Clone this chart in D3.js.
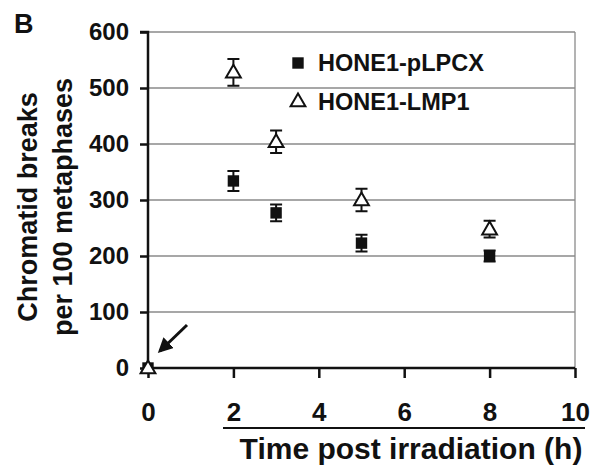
<!DOCTYPE html>
<html><head><meta charset="utf-8">
<script src="https://cdn.jsdelivr.net/npm/d3@7"></script>
<style>body{margin:0;background:#fff}svg{display:block}text{font-family:"Liberation Sans",Arial,sans-serif;font-weight:bold;fill:#111}</style>
</head><body><svg id="c" width="591" height="466"></svg>
<script>
const times = [0, 2, 3, 5, 8];
const pLPCX = [0, 334, 277, 223, 200];
const pLPCXErr = [0, 18, 15, 15, 10];
const LMP1 = [0, 528, 404, 300, 248];
const LMP1Err = [0, 24, 20, 20, 15];
const yTicks = [0, 100, 200, 300, 400, 500, 600];
const xTicks = [0, 2, 4, 6, 8, 10];
const seriesNames = ["HONE1-pLPCX", "HONE1-LMP1"];

const svg = d3.select("#c");
const x = d3.scaleLinear().domain([0, 10]).range([148, 575]);
const y = d3.scaleLinear().domain([0, 600]).range([368, 32]);

// gridlines
svg.append("g").selectAll("line").data(yTicks.filter(d => d > 0)).join("line")
  .attr("x1", x(0)).attr("x2", x(10)).attr("y1", d => y(d)).attr("y2", d => y(d))
  .attr("stroke", "#8a8a8a").attr("stroke-width", 1.3);
// right border
svg.append("line").attr("x1", x(10)).attr("x2", x(10)).attr("y1", y(600)).attr("y2", y(0))
  .attr("stroke", "#8a8a8a").attr("stroke-width", 1.3);

const FF = "Liberation Sans, Arial, sans-serif";
// y axis
const ya = svg.append("g").attr("transform", `translate(${x(0)},0)`)
  .call(d3.axisLeft(y).tickValues(yTicks).tickSize(8).tickPadding(11));
ya.select(".domain").attr("stroke", "#111").attr("stroke-width", 2.5).attr("d", `M-8,${y(600)}H0V${y(0)}`);
ya.selectAll(".tick line").attr("stroke", "#111").attr("stroke-width", 2.5);
ya.selectAll(".tick text").attr("font-size", 24).attr("font-family", FF).attr("font-weight", "bold").attr("fill", "#111");

// x axis
const xa = svg.append("g").attr("transform", `translate(0,${y(0)})`)
  .call(d3.axisBottom(x).tickValues(xTicks).tickSize(10).tickPadding(25));
xa.select(".domain").attr("stroke", "#111").attr("stroke-width", 2.5).attr("d", `M${x(0)},0H${x(10)}`);
xa.selectAll(".tick line").attr("stroke", "#111").attr("stroke-width", 2.5);
xa.selectAll(".tick text").attr("font-size", 26).attr("font-family", FF).attr("font-weight", "bold").attr("fill", "#111");

// underline and x title
svg.append("line").attr("x1", 223).attr("x2", 585).attr("y1", 428).attr("y2", 428).attr("stroke", "#111").attr("stroke-width", 2);
svg.append("text").attr("x", 411).attr("y", 459).attr("text-anchor", "middle").attr("font-size", 30).text("Time post irradiation (h)");

// y title
const yt = svg.append("text").attr("transform", "translate(0,207) rotate(-90)").attr("text-anchor", "middle").attr("font-size", 27);
yt.append("tspan").attr("x", 0).attr("y", 37).text("Chromatid breaks");
yt.append("tspan").attr("x", 0).attr("y", 72).text("per 100 metaphases");

// panel label
svg.append("text").attr("x", 14).attr("y", 33).attr("font-size", 27).text("B");

// error bars
function errBars(vals, errs) {
  const g = svg.append("g");
  const dd = times.map((t, i) => ({t, v: vals[i], e: errs[i]})).filter(d => d.e > 0);
  g.selectAll("path").data(dd).join("path")
    .attr("d", d => `M${x(d.t)},${y(d.v + d.e)}V${y(d.v - d.e)}M${x(d.t)-6},${y(d.v + d.e)}h12M${x(d.t)-6},${y(d.v - d.e)}h12`)
    .attr("stroke", "#111").attr("stroke-width", 2).attr("fill", "none");
}
errBars(pLPCX, pLPCXErr);
errBars(LMP1, LMP1Err);

const sq = d3.symbol().type(d3.symbolSquare).size(130);
const tri = d3.symbol().type(d3.symbolTriangle).size(95);

svg.append("g").selectAll("path").data(times.map((t, i) => ({t, v: pLPCX[i]}))).join("path")
  .attr("transform", d => `translate(${x(d.t)},${y(d.v)})`).attr("d", sq).attr("fill", "#111");
svg.append("g").selectAll("path").data(times.map((t, i) => ({t, v: LMP1[i]}))).join("path")
  .attr("transform", d => `translate(${x(d.t)},${y(d.v) + 1})`).attr("d", tri)
  .attr("fill", "#fff").attr("stroke", "#111").attr("stroke-width", 2);

// legend
svg.append("path").attr("transform", "translate(298,63)").attr("d", sq).attr("fill", "#111");
svg.append("path").attr("transform", "translate(298,102)").attr("d", tri).attr("fill", "#fff").attr("stroke", "#111").attr("stroke-width", 2);
svg.append("text").attr("x", 318).attr("y", 71).attr("font-size", 23.5).text(seriesNames[0]);
svg.append("text").attr("x", 318).attr("y", 110).attr("font-size", 23.5).text(seriesNames[1]);

// arrow
svg.append("defs").append("marker").attr("id", "ah").attr("viewBox", "0 0 10 10").attr("refX", 8).attr("refY", 5)
  .attr("markerWidth", 5).attr("markerHeight", 5).attr("orient", "auto")
  .append("path").attr("d", "M0,0L10,5L0,10z").attr("fill", "#111");
svg.append("line").attr("x1", 187).attr("y1", 325).attr("x2", 160).attr("y2", 351)
  .attr("stroke", "#111").attr("stroke-width", 3).attr("marker-end", "url(#ah)");
</script></body></html>
